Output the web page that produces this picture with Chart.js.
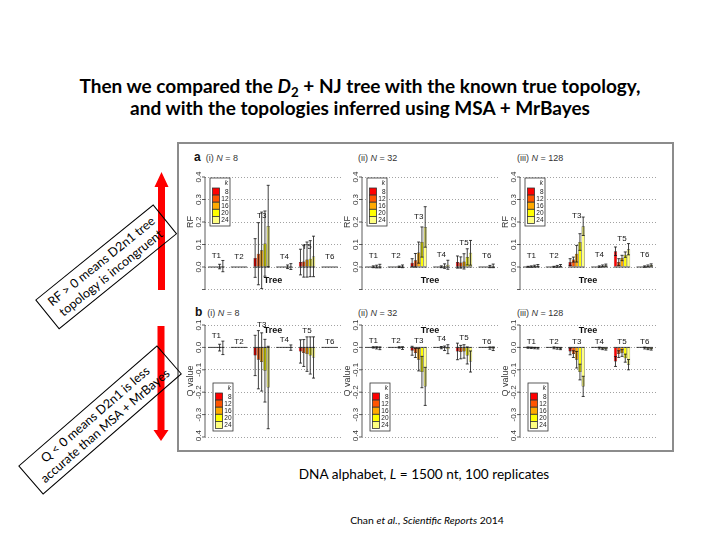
<!DOCTYPE html>
<html>
<head>
<meta charset="utf-8">
<script src="https://cdn.jsdelivr.net/npm/chart.js@4.4.1/dist/chart.umd.min.js"></script>
<style>
  body { margin: 0; width: 720px; height: 540px; background: #fff; position: relative; overflow: hidden; font-family: Lato, "Open Sans", sans-serif; color: #000; }
  .abs { position: absolute; }
  #title { left: 0; top: 75px; width: 720px; text-align: center; font-weight: bold; font-size: 19px; line-height: 22px; }
  #title sub { font-size: 0.7em; line-height: 0; vertical-align: -0.3em; }
  #frame { left: 177px; top: 142px; width: 493px; height: 306px; border: 2px solid #8c8c8c; }
  .ptitle { position: absolute; font-family: "Liberation Sans", Arial, sans-serif; font-size: 9px; color: #333; line-height: 12px; white-space: nowrap; }
  .ptitle b { font-size: 12px; color: #111; }
  .note { position: absolute; border: 1px solid #000; font-size: 12.5px; line-height: 15px; text-align: center; padding: 3px 8px; white-space: nowrap; }
  #caption { left: 0; top: 466px; width: 720px; text-align: center; font-size: 13.6px; padding-left: 128px; box-sizing: border-box; }
  #cite { left: 0; top: 514px; width: 720px; text-align: center; font-size: 10.4px; padding-left: 134px; box-sizing: border-box; }
  canvas { position: absolute; }
</style>
</head>
<body>
<div id="title" class="abs">Then we compared the <i>D</i><sub>2</sub> + NJ tree with the known true topology,<br>and with the topologies inferred using MSA + MrBayes</div>
<div id="frame" class="abs"></div>

<svg class="abs" style="left:0;top:0" width="720" height="540">
  <polygon points="158,187 158,290 165,290 165,187 168.5,187 161.5,172 154.5,187" fill="#ff0000"/>
  <polygon points="157.5,326 164.5,326 164.5,430 168.5,430 161,441 153.5,430 157.5,430" fill="#ff0000"/>
</svg>

<div class="note" style="left:106px;top:267px;transform:translate(-50%,-50%) rotate(-39deg)">RF &gt; 0 means D2n1 tree<br>topology is incongruent</div>
<div class="note" style="left:100px;top:420px;transform:translate(-50%,-50%) rotate(-41deg)">Q &lt; 0 means D2n1 is less<br>accurate than MSA + MrBayes</div>

<div class="ptitle" style="left:194px;top:151px"><b>a</b>&nbsp; (i) <i>N</i> = 8</div>
<div class="ptitle" style="left:358px;top:152px">(ii) <i>N</i> = 32</div>
<div class="ptitle" style="left:517px;top:152px">(iii) <i>N</i> = 128</div>
<div class="ptitle" style="left:195px;top:306px"><b>b</b>&nbsp; (i) <i>N</i> = 8</div>
<div class="ptitle" style="left:358px;top:307px">(ii) <i>N</i> = 32</div>
<div class="ptitle" style="left:517px;top:307px">(iii) <i>N</i> = 128</div>

<canvas id="a1" width="164" height="145" style="left:180px;top:150px"></canvas>
<canvas id="a2" width="164" height="145" style="left:337px;top:150px"></canvas>
<canvas id="a3" width="164" height="145" style="left:495px;top:150px"></canvas>
<canvas id="b1" width="164" height="141" style="left:180px;top:300px"></canvas>
<canvas id="b2" width="164" height="141" style="left:337px;top:300px"></canvas>
<canvas id="b3" width="164" height="141" style="left:495px;top:300px"></canvas>

<div id="caption" class="abs">DNA alphabet, <i>L</i> = 1500 nt, 100 replicates</div>
<div id="cite" class="abs">Chan <i>et al.</i>, <i>Scientific Reports</i> 2014</div>

<script>
const trees = ['T1', 'T2', 'T3', 'T4', 'T5', 'T6'];
const kValues = ['8', '12', '16', '20', '24'];
const kColors = ['#ff0000', '#ff5500', '#ffaa00', '#ffff00', '#ffff80'];

// rows = k (8..24), columns = trees T1..T6
// panel a: RF distance, mean and sd
const rfN8 = [
  [0, 0, 0.040, 0, 0.022, 0],
  [0, 0, 0.059, 0, 0.025, 0],
  [0, 0, 0.074, 0, 0.033, 0],
  [0.002, 0, 0.104, 0.001, 0.037, 0],
  [0.004, 0, 0.182, 0.002, 0.047, 0]
];
const rfN8Sd = [
  [0, 0, 0.086, 0, 0.057, 0],
  [0, 0, 0.138, 0, 0.070, 0],
  [0, 0, 0.170, 0, 0.078, 0],
  [0.010, 0, 0.145, 0.008, 0.080, 0],
  [0.025, 0, 0.181, 0.013, 0.090, 0]
];
const rfN32 = [
  [0, 0, 0.019, 0, 0.022, 0],
  [0, 0, 0.030, 0, 0.020, 0],
  [0.001, 0, 0.064, 0.001, 0.025, 0],
  [0.002, 0.001, 0.111, 0.004, 0.045, 0.002],
  [0.004, 0.003, 0.178, 0.010, 0.063, 0.005]
];
const rfN32Sd = [
  [0, 0, 0.018, 0, 0.027, 0],
  [0, 0, 0.030, 0, 0.025, 0],
  [0.004, 0, 0.047, 0.004, 0.034, 0],
  [0.006, 0.003, 0.067, 0.010, 0.036, 0.005],
  [0.008, 0.006, 0.090, 0.020, 0.055, 0.008]
];
const rfN128 = [
  [0, 0, 0.022, 0, 0.070, 0],
  [0.001, 0, 0.033, 0, 0.022, 0],
  [0.002, 0.001, 0.059, 0.002, 0.040, 0.002],
  [0.004, 0.003, 0.111, 0.005, 0.055, 0.005],
  [0.006, 0.006, 0.181, 0.008, 0.079, 0.009]
];
const rfN128Sd = [
  [0, 0, 0.015, 0, 0.019, 0],
  [0.002, 0, 0.011, 0, 0.015, 0],
  [0.003, 0.002, 0.037, 0.003, 0.012, 0.003],
  [0.004, 0.004, 0.037, 0.004, 0.012, 0.004],
  [0.005, 0.005, 0.041, 0.005, 0.025, 0.005]
];

// panel b: Q value, mean and sd
const qN8 = [
  [0, 0, -0.036, 0, -0.018, 0],
  [0, 0, -0.055, 0, -0.025, 0],
  [0, 0, -0.065, 0, -0.030, 0],
  [-0.001, 0, -0.104, 0, -0.036, 0],
  [-0.002, 0, -0.179, -0.001, -0.045, 0]
];
const qN8Sd = [
  [0, 0, 0.090, 0, 0.052, 0],
  [0, 0, 0.130, 0, 0.060, 0],
  [0, 0, 0.130, 0, 0.077, 0],
  [0.015, 0, 0.140, 0, 0.083, 0],
  [0.030, 0, 0.184, 0.012, 0.092, 0]
];
const qN32 = [
  [0, 0, -0.015, 0, -0.018, 0],
  [0, 0, -0.025, 0, -0.021, 0],
  [0, 0, -0.055, -0.001, -0.018, 0],
  [-0.002, 0, -0.110, -0.004, -0.036, -0.003],
  [-0.004, -0.003, -0.174, -0.008, -0.063, -0.006]
];
const qN32Sd = [
  [0, 0, 0.020, 0, 0.037, 0],
  [0, 0, 0.020, 0, 0.030, 0],
  [0.003, 0, 0.050, 0.005, 0.030, 0],
  [0.005, 0.003, 0.070, 0.010, 0.038, 0.005],
  [0.006, 0.006, 0.085, 0.020, 0.047, 0.008]
];
const qN128 = [
  [0, 0, -0.018, 0, -0.063, 0],
  [-0.001, 0, -0.030, 0, -0.030, 0],
  [-0.002, -0.002, -0.055, -0.003, -0.025, -0.003],
  [-0.003, -0.004, -0.110, -0.006, -0.048, -0.006],
  [-0.004, -0.006, -0.174, -0.008, -0.077, -0.008]
];
const qN128Sd = [
  [0, 0, 0.015, 0, 0.022, 0],
  [0.003, 0, 0.015, 0, 0.015, 0],
  [0.003, 0.004, 0.037, 0.004, 0.015, 0.004],
  [0.003, 0.004, 0.035, 0.004, 0.018, 0.004],
  [0.003, 0.004, 0.045, 0.004, 0.023, 0.004]
];

const rfTicks = [0, 0.1, 0.2, 0.3, 0.4];
const qTicks = [0.1, 0, -0.1, -0.2, -0.3, -0.4];

const FONT = '"Liberation Sans", Arial, sans-serif';

function drawKey(ctx, left, top) {
  const w = 20, rowH = 7.1, h = 48;
  ctx.fillStyle = '#fff';
  ctx.fillRect(left, top, w, h);
  ctx.strokeStyle = '#333';
  ctx.lineWidth = 0.8;
  ctx.strokeRect(left, top, w, h);
  ctx.fillStyle = '#222';
  ctx.textAlign = 'right';
  ctx.textBaseline = 'middle';
  ctx.font = 'italic 6.5px ' + FONT;
  ctx.fillText('k', left + w - 2, top + 5);
  ctx.font = '6.5px ' + FONT;
  kValues.forEach((k, i) => {
    const ry = top + 10 + i * rowH;
    ctx.fillStyle = kColors[i];
    ctx.fillRect(left + 2.5, ry, 7, rowH);
    ctx.strokeStyle = '#333';
    ctx.strokeRect(left + 2.5, ry, 7, rowH);
    ctx.fillStyle = '#222';
    ctx.fillText(k, left + w - 1.5, ry + rowH / 2 + 0.5);
  });
}

const panelDecor = {
  id: 'panelDecor',
  afterDatasetsDraw(chart) {
    const ctx = chart.ctx, y = chart.scales.y;
    const y0 = y.getPixelForValue(0);
    ctx.save();
    ctx.strokeStyle = '#111';
    ctx.lineWidth = 0.8;
    chart.data.datasets.forEach((ds, di) => {
      chart.getDatasetMeta(di).data.forEach((bar, ti) => {
        const m = ds.data[ti], e = ds.errors[ti];
        ctx.beginPath();
        ctx.moveTo(bar.x - bar.width / 2, y0);
        ctx.lineTo(bar.x + bar.width / 2, y0);
        ctx.stroke();
        if (e > 0) {
          const top = y.getPixelForValue(m + e), bot = y.getPixelForValue(m - e);
          ctx.beginPath();
          ctx.moveTo(bar.x, top); ctx.lineTo(bar.x, bot);
          ctx.moveTo(bar.x - 1.5, top); ctx.lineTo(bar.x + 1.5, top);
          ctx.moveTo(bar.x - 1.5, bot); ctx.lineTo(bar.x + 1.5, bot);
          ctx.stroke();
        }
      });
    });
    ctx.restore();
  },
  afterDraw(chart, args, opt) {
    const {ctx, chartArea: area, scales: {x, y}} = chart;
    const isRF = opt.kind === 'rf';
    const labelled = isRF ? rfTicks : qTicks;
    ctx.save();
    // left axis with ticks
    ctx.strokeStyle = '#333';
    ctx.lineWidth = 0.8;
    ctx.beginPath();
    ctx.moveTo(area.left, area.top);
    ctx.lineTo(area.left, area.bottom);
    y.ticks.forEach(t => {
      const py = y.getPixelForValue(t.value);
      ctx.moveTo(area.left - 3, py);
      ctx.lineTo(area.left, py);
    });
    ctx.stroke();
    ctx.fillStyle = '#333';
    ctx.font = '8px ' + FONT;
    ctx.textAlign = 'center';
    ctx.textBaseline = 'bottom';
    labelled.forEach(v => {
      ctx.save();
      ctx.translate(area.left - 2, y.getPixelForValue(v));
      ctx.rotate(-Math.PI / 2);
      ctx.fillText(v.toFixed(1), 0, 0);
      ctx.restore();
    });
    ctx.font = '9px ' + FONT;
    ctx.save();
    ctx.translate(area.left - 10, y.getPixelForValue(isRF ? 0.2 : -0.15));
    ctx.rotate(-Math.PI / 2);
    ctx.fillText(isRF ? 'RF' : 'Q value', 0, 0);
    ctx.restore();

    // tree labels above each group
    const means = chart.data.datasets.map(d => d.data);
    const sds = chart.data.datasets.map(d => d.errors);
    ctx.fillStyle = '#111';
    ctx.font = '8px ' + FONT;
    ctx.textBaseline = 'middle';
    trees.forEach((t, ti) => {
      const col = means.map(r => r[ti]);
      let v;
      if (isRF) v = Math.max(...col) + 0.045;
      else v = Math.max(0, ...col.map((m, i) => m + sds[i][ti])) + 0.025;
      ctx.fillText(t, x.getPixelForValue(ti), y.getPixelForValue(v));
    });
    ctx.font = 'bold 9px ' + FONT;
    ctx.fillText('Tree', (area.left + area.right) / 2, y.getPixelForValue(isRF ? -0.058 : 0.076));

    if (isRF) drawKey(ctx, area.left + 5, area.top + 1);
    else drawKey(ctx, area.left + 8, area.bottom - 54);
    ctx.restore();
  }
};

function makePanel(id, means, sds, kind) {
  const isRF = kind === 'rf';
  new Chart(document.getElementById(id), {
    type: 'bar',
    data: {
      labels: trees,
      datasets: kValues.map((k, i) => ({
        label: k,
        data: means[i],
        errors: sds[i],
        backgroundColor: kColors[i],
        borderColor: '#111',
        borderWidth: 0.5,
        categoryPercentage: 0.72,
        barPercentage: 1.0
      }))
    },
    options: {
      responsive: false,
      animation: false,
      layout: { padding: isRF ? { left: 25, top: 27, right: 3, bottom: 5.5 } : { left: 25, top: 25, right: 3, bottom: 4 } },
      plugins: {
        legend: { display: false },
        tooltip: { enabled: false },
        panelDecor: { kind: kind }
      },
      scales: {
        x: { display: false },
        y: {
          min: isRF ? -0.1 : -0.4,
          max: isRF ? 0.4 : 0.1,
          ticks: { display: false, stepSize: 0.1 },
          grid: { drawTicks: false, color: '#8a8a8a', lineWidth: 0.8 },
          border: { display: false, dash: [1, 2] }
        }
      }
    },
    plugins: [panelDecor]
  });
}

makePanel('a1', rfN8, rfN8Sd, 'rf');
makePanel('a2', rfN32, rfN32Sd, 'rf');
makePanel('a3', rfN128, rfN128Sd, 'rf');
makePanel('b1', qN8, qN8Sd, 'q');
makePanel('b2', qN32, qN32Sd, 'q');
makePanel('b3', qN128, qN128Sd, 'q');
</script>
</body>
</html>
